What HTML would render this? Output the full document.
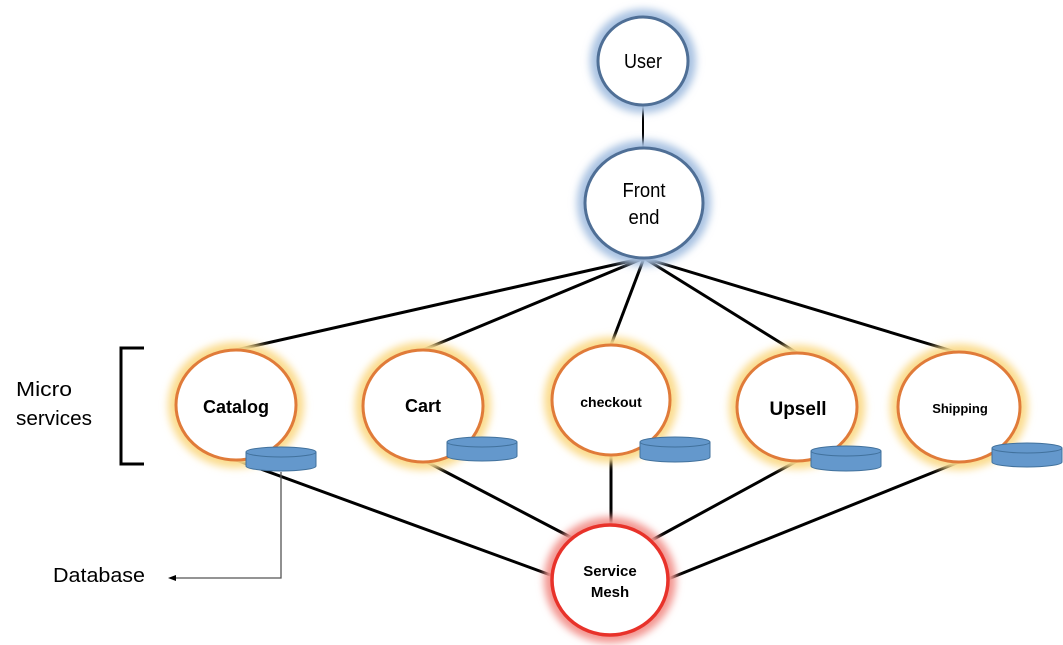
<!DOCTYPE html>
<html><head><meta charset="utf-8"><style>
html,body{margin:0;padding:0;background:#fff;width:1063px;height:645px;overflow:hidden}
svg{display:block}
text{font-family:"Liberation Sans",Arial,sans-serif}
</style></head><body>
<svg width="1063" height="645" viewBox="0 0 1063 645" xmlns="http://www.w3.org/2000/svg">
<defs>
<filter id="g" x="-30%" y="-30%" width="160%" height="160%"><feGaussianBlur stdDeviation="4"/></filter>
</defs>
<!-- connectors -->
<g stroke="#000" stroke-width="3" fill="none">
<line x1="643" y1="105" x2="643" y2="148" stroke-width="2"/>
<line x1="644" y1="258" x2="236" y2="350"/>
<line x1="644" y1="258" x2="423" y2="350"/>
<line x1="644" y1="258" x2="611" y2="345"/>
<line x1="644" y1="258" x2="797" y2="353"/>
<line x1="644" y1="258" x2="959" y2="353"/>
<line x1="236" y1="460" x2="556" y2="577"/>
<line x1="423" y1="460" x2="576" y2="540"/>
<line x1="611" y1="455" x2="611" y2="525"/>
<line x1="797" y1="461" x2="652" y2="540"/>
<line x1="959" y1="462" x2="668" y2="579"/>
</g>
<!-- glows -->
<g fill="none" filter="url(#g)">
<ellipse cx="643" cy="61" rx="45" ry="44" stroke="#a9c2e2" stroke-width="16"/>
<ellipse cx="644" cy="203" rx="59" ry="55" stroke="#a9c2e2" stroke-width="16"/>
<g stroke="#fbdc8e" stroke-width="16">
<ellipse cx="236" cy="405" rx="60" ry="55"/>
<ellipse cx="423" cy="406" rx="60" ry="56"/>
<ellipse cx="611" cy="400" rx="59" ry="55"/>
<ellipse cx="797" cy="407" rx="60" ry="54"/>
<ellipse cx="959" cy="407" rx="61" ry="55"/>
</g>
<ellipse cx="610" cy="580" rx="58" ry="55" stroke="#f39590" stroke-width="16"/>
</g>
<!-- nodes -->
<g fill="#fff">
<ellipse cx="643" cy="61" rx="45" ry="44" stroke="#4f6f96" stroke-width="3"/>
<ellipse cx="644" cy="203" rx="59" ry="55" stroke="#4f6f96" stroke-width="3"/>
<g stroke="#e07b39" stroke-width="3">
<ellipse cx="236" cy="405" rx="60" ry="55"/>
<ellipse cx="423" cy="406" rx="60" ry="56"/>
<ellipse cx="611" cy="400" rx="59" ry="55"/>
<ellipse cx="797" cy="407" rx="60" ry="54"/>
<ellipse cx="959" cy="407" rx="61" ry="55"/>
</g>
<ellipse cx="610" cy="580" rx="58" ry="55" stroke="#e8322a" stroke-width="3.5"/>
</g>
<!-- databases -->
<g fill="#6498cc" stroke="#41719c" stroke-width="1">
<path d="M246,452 v14 a35,5 0 0 0 70,0 v-14"/><ellipse cx="281" cy="452" rx="35" ry="5"/>
<path d="M447,442 v14 a35,5 0 0 0 70,0 v-14"/><ellipse cx="482" cy="442" rx="35" ry="5"/>
<path d="M640,442 v15 a35,5 0 0 0 70,0 v-15"/><ellipse cx="675" cy="442" rx="35" ry="5"/>
<path d="M811,451 v15 a35,5 0 0 0 70,0 v-15"/><ellipse cx="846" cy="451" rx="35" ry="5"/>
<path d="M992,448 v14 a35,5 0 0 0 70,0 v-14"/><ellipse cx="1027" cy="448" rx="35" ry="5"/>
</g>
<!-- database pointer -->
<polyline points="281,472 281,578 175,578" fill="none" stroke="#555" stroke-width="1.3"/>
<path d="M168,578 L176,575 L176,581 z" fill="#000"/>
<!-- bracket -->
<polyline points="144,348 121,348 121,464 144,464" fill="none" stroke="#000" stroke-width="3"/>
<!-- labels -->
<g text-anchor="middle" fill="#000">
<text x="643" y="68" font-size="20" textLength="38" lengthAdjust="spacingAndGlyphs">User</text>
<text x="644" y="197" font-size="20" textLength="43" lengthAdjust="spacingAndGlyphs">Front</text>
<text x="644" y="224" font-size="20" textLength="31" lengthAdjust="spacingAndGlyphs">end</text>
<text x="236" y="413" font-size="18" font-weight="bold">Catalog</text>
<text x="423" y="412" font-size="18" font-weight="bold">Cart</text>
<text x="611" y="407" font-size="14" font-weight="bold">checkout</text>
<text x="798" y="415" font-size="19" font-weight="bold">Upsell</text>
<text x="960" y="413" font-size="13" font-weight="bold">Shipping</text>
<text x="610" y="576" font-size="15" font-weight="bold">Service</text>
<text x="610" y="597" font-size="15" font-weight="bold">Mesh</text>
</g>
<g font-size="20" fill="#000" style="font-family:'DejaVu Sans','Liberation Sans',sans-serif">
<text x="16" y="396" textLength="56" lengthAdjust="spacingAndGlyphs">Micro</text>
<text x="16" y="425" textLength="76" lengthAdjust="spacingAndGlyphs">services</text>
<text x="53" y="582" textLength="92" lengthAdjust="spacingAndGlyphs">Database</text>
</g>
</svg>
</body></html>
